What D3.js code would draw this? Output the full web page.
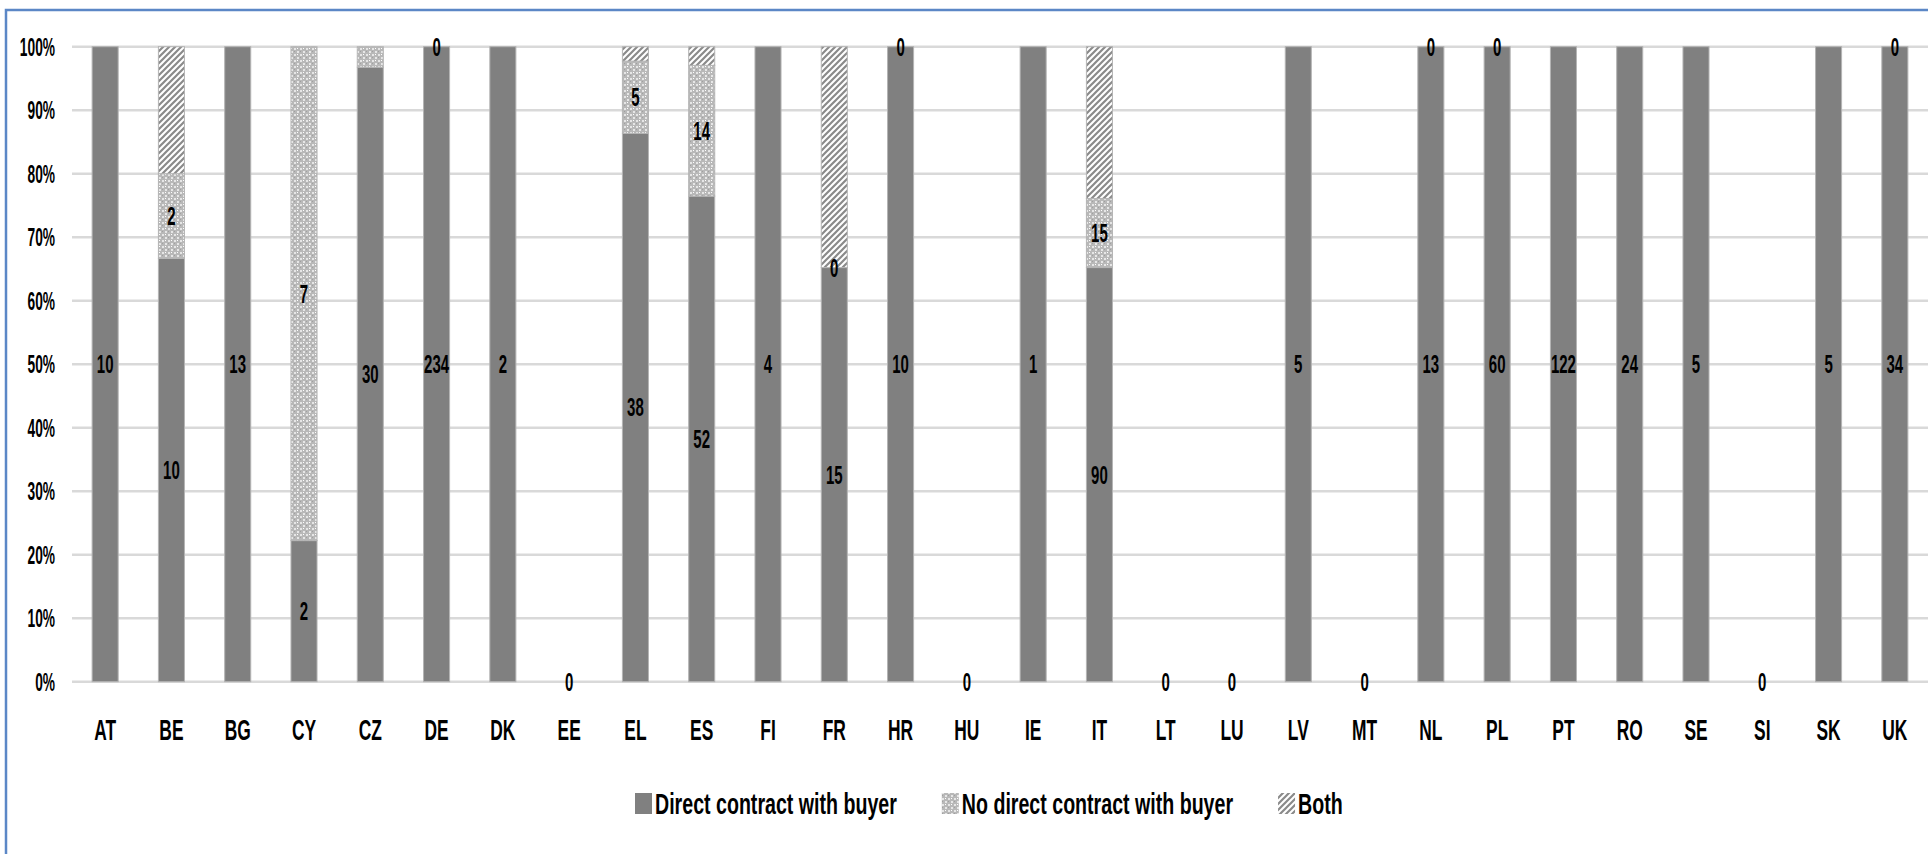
<!DOCTYPE html>
<html>
<head>
<meta charset="utf-8">
<script src="https://cdn.jsdelivr.net/npm/d3@7"></script>
<style>
  html, body { margin: 0; padding: 0; background: #fff; }
  svg { display: block; }
  text { font-family: "Liberation Sans", Arial, sans-serif; font-weight: bold; fill: #000; }
</style>
</head>
<body>
<svg id="chart" width="1928" height="854"></svg>
<script>
const categories = ["AT","BE","BG","CY","CZ","DE","DK","EE","EL","ES","FI","FR","HR","HU","IE","IT","LT","LU","LV","MT","NL","PL","PT","RO","SE","SI","SK","UK"];
const seriesNames = ["Direct contract with buyer", "No direct contract with buyer", "Both"];
const direct   = [10, 10, 13, 2, 30, 234, 2, 0, 38, 52, 4, 15, 10, 0, 1, 90, 0, 0, 5, 0, 13, 60, 122, 24, 5, 0, 5, 34];
const noDirect = [null, 2, null, 7, 1, 0, null, null, 5, 14, null, 0, 0, null, null, 15, null, null, null, null, 0, 0, null, null, null, null, null, 0];
const both     = [null, 3, null, null, null, null, null, null, 1, 2, null, 8, null, null, null, 33, null, null, null, null, null, null, null, null, null, null, null, null];
const hiddenNoDirectLabels = ["CZ"];
const yTicks = [0, 0.1, 0.2, 0.3, 0.4, 0.5, 0.6, 0.7, 0.8, 0.9, 1.0];

const svg = d3.select("#chart");
const W = 1928, H = 854;
const plot = { left: 72, right: 1928, top: 46.7, bottom: 681.7 };

// frame
svg.append("rect").attr("x", 6).attr("y", 10).attr("width", 2000).attr("height", 2000)
  .attr("fill", "none").attr("stroke", "#5b87c6").attr("stroke-width", 2.5);

const defs = svg.append("defs");
// dotted pattern for "No direct contract"
const p1 = defs.append("pattern").attr("id", "dots").attr("patternUnits", "userSpaceOnUse")
  .attr("width", 6).attr("height", 6);
p1.append("rect").attr("width", 6).attr("height", 6).attr("fill", "#b8b8b8");
p1.append("rect").attr("x", 0).attr("y", 0).attr("width", 2).attr("height", 2).attr("fill", "#e6e6e6");
p1.append("rect").attr("x", 3).attr("y", 3).attr("width", 2).attr("height", 2).attr("fill", "#e6e6e6");
p1.append("rect").attr("x", 3).attr("y", 0).attr("width", 1).attr("height", 1).attr("fill", "#ffffff");
p1.append("rect").attr("x", 0).attr("y", 3).attr("width", 1).attr("height", 1).attr("fill", "#a0a0a0");
// diagonal stripes for "Both"
const p2 = defs.append("pattern").attr("id", "stripes").attr("patternUnits", "userSpaceOnUse")
  .attr("width", 6).attr("height", 6);
p2.append("rect").attr("width", 6).attr("height", 6).attr("fill", "#ffffff");
p2.append("path").attr("d", "M-1,1 l2,-2 M0,6 l6,-6 M5,7 l2,-2")
  .attr("stroke", "#8a8a8a").attr("stroke-width", 2.2);

const fills = ["#808080", "url(#dots)", "url(#stripes)"];

const x = d3.scaleBand().domain(categories).range([plot.left, plot.right]).paddingInner(0.607).paddingOuter(0.3035);
const y = d3.scaleLinear().domain([0, 1]).range([plot.bottom, plot.top]);

// gridlines
svg.append("g").selectAll("line").data(yTicks).join("line")
  .attr("x1", plot.left).attr("x2", plot.right)
  .attr("y1", d => y(d)).attr("y2", d => y(d))
  .attr("stroke", "#d9d9d9").attr("stroke-width", 2.5);

// y tick labels
const fmt = d3.format(".0%");
svg.append("g").selectAll("text").data(yTicks).join("text")
  .attr("transform", d => `translate(55,${y(d)}) scale(0.55,1)`)
  .attr("text-anchor", "end").attr("dy", "0.36em")
  .style("font-size", "25px")
  .text(d => fmt(d));

// category labels
svg.append("g").selectAll("text").data(categories).join("text")
  .attr("transform", d => `translate(${x(d) + x.bandwidth() / 2},740) scale(0.6,1)`)
  .attr("text-anchor", "middle")
  .style("font-size", "29px")
  .text(d => d);

// stacked data
const rows = categories.map((c, i) => ({ cat: c, s0: direct[i], s1: noDirect[i], s2: both[i] }));
const keys = ["s0", "s1", "s2"];
const stack = d3.stack().keys(keys).value((d, k) => d[k] || 0).offset(d3.stackOffsetExpand);
const layers = stack(rows);

const gBars = svg.append("g");
layers.forEach((layer, li) => {
  gBars.append("g").selectAll("rect").data(layer.filter(d => d[1] - d[0] > 0)).join("rect")
    .attr("x", d => x(d.data.cat))
    .attr("width", x.bandwidth())
    .attr("y", d => y(d[1]))
    .attr("height", d => y(d[0]) - y(d[1]))
    .attr("fill", fills[li])
    .attr("stroke", "#b4b4b4").attr("stroke-width", 1);
});

// data labels (direct and no-direct series)
const gLab = svg.append("g");
[0, 1].forEach(li => {
  const key = keys[li];
  const items = layers[li].filter(d => d.data[key] !== null && !(li === 1 && hiddenNoDirectLabels.includes(d.data.cat)));
  gLab.append("g").selectAll("text").data(items).join("text")
    .attr("transform", d => `translate(${x(d.data.cat) + x.bandwidth() / 2},${y((d[0] + d[1]) / 2)}) scale(0.6,1)`)
    .attr("text-anchor", "middle").attr("dy", "0.36em")
    .style("font-size", "25px")
    .text(d => d.data[key]);
});

// legend
const lg = svg.append("g");
let lx = 635;
seriesNames.forEach((name, i) => {
  lg.append("rect").attr("x", lx).attr("y", 793).attr("width", 17).attr("height", 21)
    .attr("fill", fills[i]);
  const t = lg.append("text")
    .attr("transform", `translate(${lx + 20},814) scale(0.676,1)`)
    .style("font-size", "29px")
    .text(name);
  const w = t.node().getComputedTextLength() * 0.676;
  lx += 20 + w + 45;
});
</script>
</body>
</html>
